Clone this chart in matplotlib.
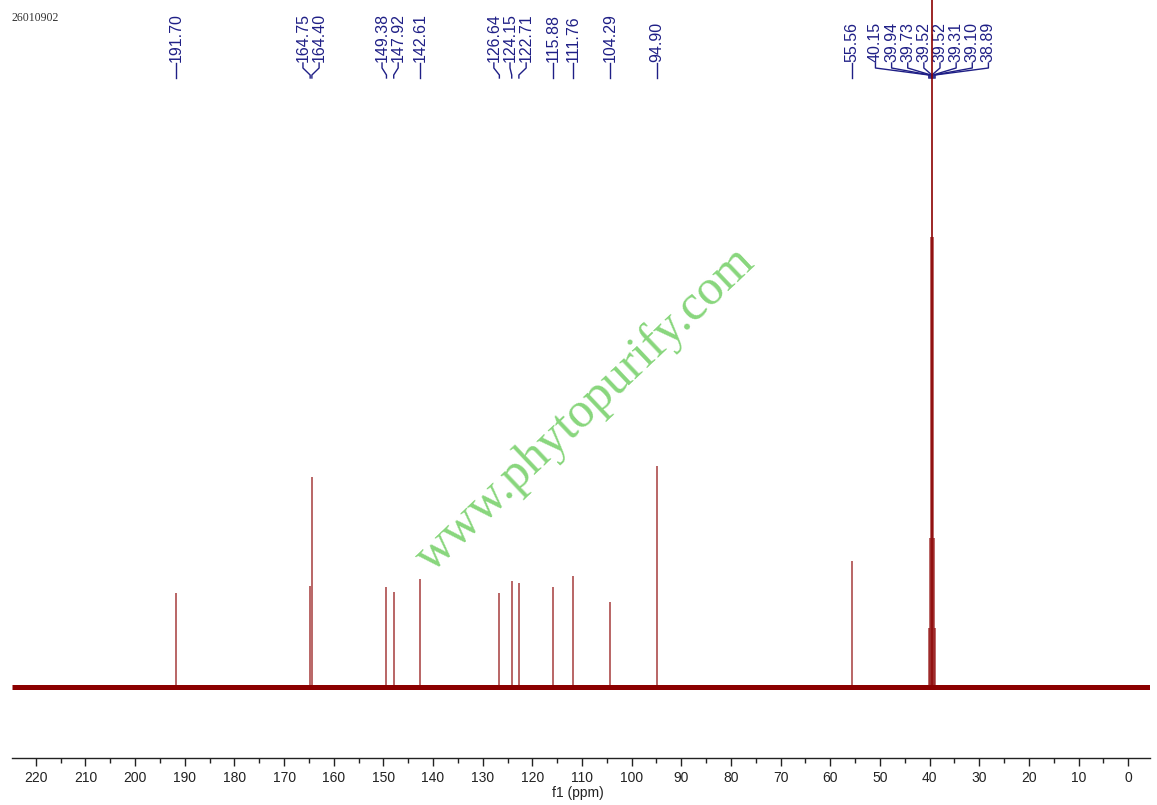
import matplotlib
matplotlib.use("Agg")
import matplotlib.pyplot as plt
import matplotlib.transforms as mtransforms

# ---- datos leidos del espectro (13C, DMSO-d6) ----
# desplazamientos (ppm) de cada pico etiquetado
desplazamientos = [191.70, 164.75, 164.40, 149.38, 147.92, 142.61, 126.64, 124.15,
                   122.71, 115.88, 111.76, 104.29, 94.90, 55.56, 40.15, 39.94,
                   39.73, 39.52, 39.52, 39.31, 39.10, 38.89]
etiquetas = ["191.70", "164.75", "164.40", "149.38", "147.92", "142.61", "126.64",
             "124.15", "122.71", "115.88", "111.76", "104.29", "94.90", "55.56",
             "40.15", "39.94", "39.73", "39.52", "39.52", "39.31", "39.10", "38.89"]
# intensidad (unidades arbitrarias); el pico central del DMSO sale del grafico
intensidades = [9.4, 10.1, 21.0, 10.0, 9.5, 10.8, 9.4, 10.6,
                10.4, 10.0, 11.1, 8.5, 22.1, 12.6, 5.9, 14.9,
                45.0, 80.0, 80.0, 45.0, 14.9, 5.9]

marcas_x = list(range(0, 221, 10))

ROJO = "#8b0000"
AZUL = "#1f1f86"

W, H = 1157, 805
fig = plt.figure(figsize=(W / 100, H / 100), dpi=100)
ax = fig.add_axes([12 / W, 47 / H, 1138 / W, 758 / H])
ax.set_xlim(224.8, -4.4)
ax.set_ylim(-7.1, 68.7)

# linea base (ruido) y picos
ax.plot([224.8, -4.4], [0, 0], color=ROJO, lw=3.6, solid_capstyle="butt", zorder=3)
ax.vlines(desplazamientos, 0, intensidades, color=ROJO, lw=1.3, alpha=0.65, zorder=4)

# ---- ejes ----
for lado in ["top", "left", "right"]:
    ax.spines[lado].set_visible(False)
ax.spines["bottom"].set_color("#222222")
ax.spines["bottom"].set_linewidth(1.0)
ax.set_yticks([])
ax.set_xticks(marcas_x)
ax.set_xticks(range(5, 225, 10), minor=True)
ax.tick_params(axis="x", which="major", direction="out", length=6, width=1,
               labelsize=10, pad=3, colors="#222222")
ax.tick_params(axis="x", which="minor", direction="out", length=3.5, width=1,
               colors="#222222")
for t in ax.get_xticklabels():
    t.set_fontfamily("Liberation Sans")
ax.set_xlabel("f1 (ppm)", fontsize=10, family="Liberation Sans", labelpad=1,
              color="#222222")
ax.xaxis.set_label_coords((578 - 12) / 1138, -28 / 758)

# ---- etiquetas de picos: repartir para que no se solapen ----
hueco = 3.25  # ppm entre etiquetas
grupos = [[i] for i in range(len(desplazamientos))]


def posiciones(grupo):
    centro = sum(desplazamientos[i] for i in grupo) / len(grupo)
    n = len(grupo)
    return [centro + (n - 1) / 2 * hueco - k * hueco for k in range(n)]


cambiado = True
while cambiado:
    cambiado = False
    for g in range(len(grupos) - 1):
        a = posiciones(grupos[g])[-1]
        b = posiciones(grupos[g + 1])[0]
        if a - b < hueco:
            grupos[g] = grupos[g] + grupos[g + 1]
            del grupos[g + 1]
            cambiado = True
            break

pos_etiqueta = []
for g in grupos:
    pos_etiqueta += posiciones(g)

trans = mtransforms.blended_transform_factory(ax.transData, ax.transAxes)


def yf(px):
    return (758 - px) / 758


for i, txt in enumerate(etiquetas):
    lx = pos_etiqueta[i]
    px = desplazamientos[i]
    ax.plot([lx, lx, px, px], [yf(63), yf(68), yf(75), yf(78)], color=AZUL,
            lw=1.0, transform=trans, clip_on=False, zorder=2)
    ax.text(lx, yf(62), txt, rotation=90, ha="center", va="bottom", fontsize=11.5,
            color=AZUL, family="Liberation Sans", transform=trans, clip_on=False)

# codigo de muestra y marca de agua
fig.text(12 / W, 1 - 18 / H, "26010902", fontsize=8.5, family="Liberation Serif",
         color="#333333", ha="left", va="center")
fig.text(585 / W, 1 - 410 / H, "www.phytopurify.com", fontsize=36,
         family="Liberation Serif", color="#88d67c", rotation=43.5,
         rotation_mode="anchor", ha="center", va="center", zorder=1)

fig.savefig("out.png", dpi=100)
